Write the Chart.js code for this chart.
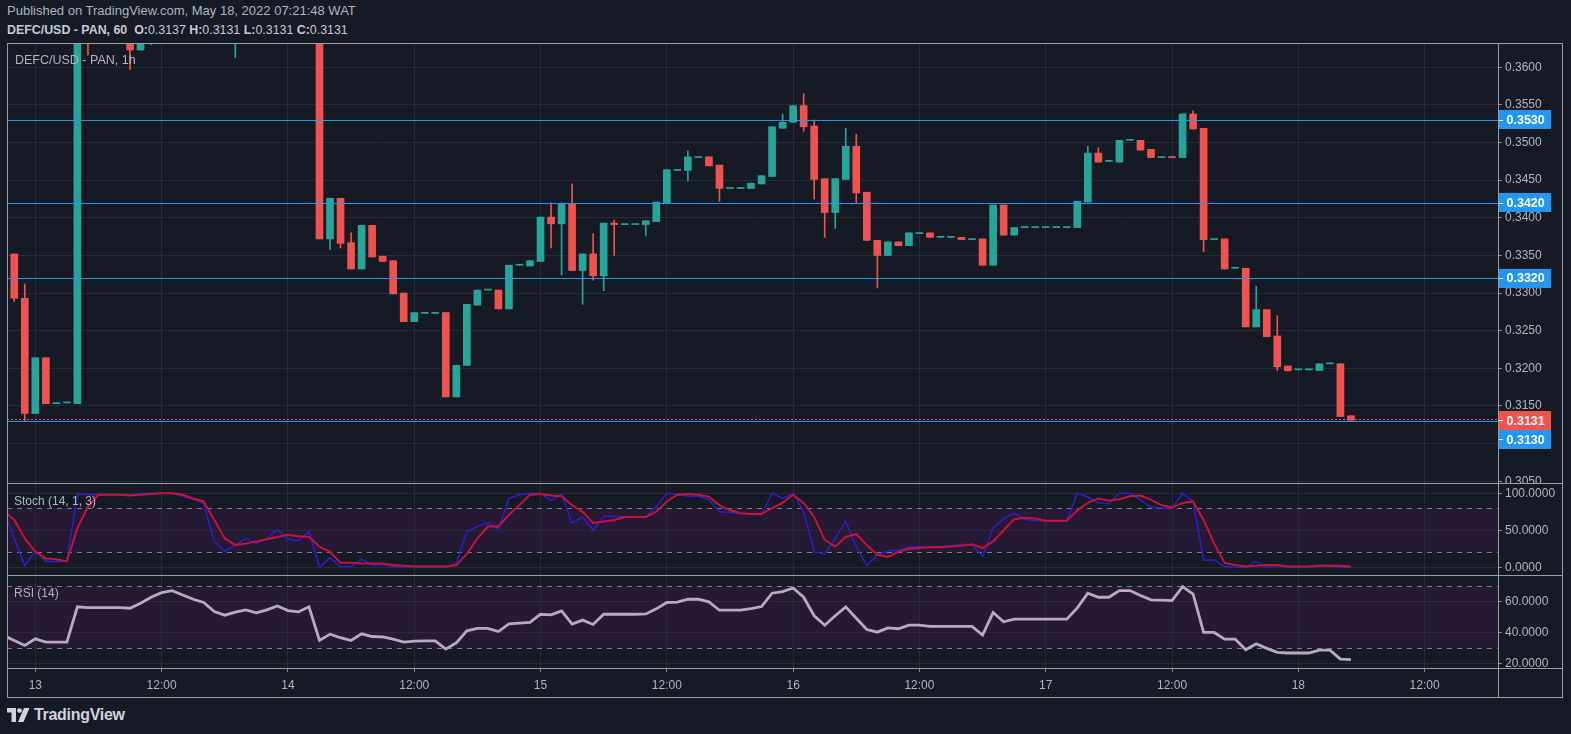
<!DOCTYPE html>
<html>
<head>
<meta charset="utf-8">
<title>DEFC/USD - PAN, 1h</title>
<script src="https://cdn.jsdelivr.net/npm/chart.js@4.4.1/dist/chart.umd.min.js"></script>
<style>
  body { margin: 0; width: 1571px; height: 734px; background: #161a25; overflow: hidden;
         position: relative; font-family: "Liberation Sans", Arial, sans-serif; color: #b2b5be; }
  canvas { position: absolute; }
  .txt { position: absolute; white-space: nowrap; }
  .frame { position: absolute; background: #9a9da6; }
  #pub { left: 7px; top: 3px; font-size: 13px; line-height: 16px; }
  #ohlc { left: 7px; top: 22px; font-size: 12.4px; line-height: 16px; color: #c8cbd3; }
  #ohlc span { font-weight: normal; }
  .paneTitle { font-size: 12px; line-height: 14px; color: #b2b5be; }
  #legend { font-size: 12.5px; }
  #brand { left: 7px; top: 706px; height: 18px; display: flex; align-items: center; }
  #brand b { font-size: 16px; color: #d1d4dc; margin-left: 3px; letter-spacing: -0.3px; }
</style>
</head>
<body>

<div id="pub" class="txt">Published on TradingView.com, May 18, 2022 07:21:48 WAT</div>
<div id="ohlc" class="txt"><b>DEFC/USD - PAN, 60&nbsp; O:</b><span>0.3137</span> <b>H:</b><span>0.3131</span> <b>L:</b><span>0.3131</span> <b>C:</b><span>0.3131</span></div>

<canvas id="priceChart" width="1556" height="440" style="left:7px;top:43px"></canvas>
<canvas id="stochChart" width="1556" height="92" style="left:7px;top:483px"></canvas>
<canvas id="rsiChart" width="1556" height="122" style="left:7px;top:575px"></canvas>

<div id="legend" class="txt paneTitle" style="left:15px;top:53px">DEFC/USD - PAN, 1h</div>
<div class="txt paneTitle" style="left:14px;top:494px">Stoch (14, 1, 3)</div>
<div class="txt paneTitle" style="left:14px;top:586px">RSI (14)</div>

<!-- pane frame -->
<div class="frame" style="left:7px;top:43px;width:1556px;height:1px"></div>
<div class="frame" style="left:7px;top:483px;width:1556px;height:1px"></div>
<div class="frame" style="left:7px;top:575px;width:1556px;height:1px"></div>
<div class="frame" style="left:7px;top:668px;width:1556px;height:1px"></div>
<div class="frame" style="left:7px;top:697px;width:1556px;height:1px"></div>
<div class="frame" style="left:7px;top:43px;width:1px;height:655px"></div>
<div class="frame" style="left:1498px;top:43px;width:1px;height:655px"></div>
<div class="frame" style="left:1562px;top:43px;width:1px;height:655px"></div>

<div id="brand" class="txt">
  <svg width="24" height="14" viewBox="0 0 24 14">
    <path d="M0 0h9v14h-4.5v-9.5h-4.5z" fill="#d1d4dc"/>
    <circle cx="12.5" cy="2.6" r="2.4" fill="#d1d4dc"/>
    <path d="M17 0h5.5l-6 14h-5.5z" fill="#d1d4dc"/>
  </svg>
  <b>TradingView</b>
</div>

<script>
// hourly bars, first one is 12 May 21:00, last one 18 May 05:00
const firstHour = -3;   // hours relative to 13 May 00:00

const opens = [
  0.3351, 0.3352, 0.3293,
  // 13
  0.3140, 0.3214, 0.3153, 0.3154, 0.3153, 0.3680, 0.3660, 0.3672, 0.3695, 0.3705, 0.3623, 0.3690,
  0.3715, 0.3735, 0.3750, 0.3725, 0.3710, 0.3700, 0.3665, 0.3655, 0.3668, 0.3675, 0.3665, 0.3678,
  // 14
  0.3692, 0.3680, 0.3675, 0.3688, 0.3372, 0.3426, 0.3367, 0.3332, 0.3390, 0.3349, 0.3343, 0.3300,
  0.3262, 0.3273, 0.3273, 0.3274, 0.3162, 0.3204, 0.3284, 0.3304, 0.3304, 0.3279, 0.3337, 0.3336,
  // 15
  0.3342, 0.3401, 0.3392, 0.3418, 0.3330, 0.3352, 0.3323, 0.3393, 0.3391, 0.3391, 0.3391, 0.3395,
  0.3420, 0.3463, 0.3463, 0.3480, 0.3481, 0.3470, 0.3439, 0.3439, 0.3439, 0.3445, 0.3455, 0.3519,
  // 16
  0.3527, 0.3549, 0.3522, 0.3452, 0.3407, 0.3451, 0.3495, 0.3434, 0.3370, 0.3350, 0.3368, 0.3363,
  0.3379, 0.3380, 0.3374, 0.3374, 0.3374, 0.3371, 0.3372, 0.3337, 0.3417, 0.3377, 0.3387, 0.3387,
  // 17
  0.3387, 0.3387, 0.3387, 0.3387, 0.3421, 0.3486, 0.3475, 0.3474, 0.3503, 0.3503, 0.3491, 0.3480,
  0.3481, 0.3480, 0.3538, 0.3519, 0.3371, 0.3372, 0.3333, 0.3333, 0.3255, 0.3278, 0.3243, 0.3203,
  // 18
  0.3198, 0.3198, 0.3197, 0.3206, 0.3206, 0.3137
];
const highs = [
  0.3353, 0.3352, 0.3312,
  0.3214, 0.3214, 0.3154, 0.3154, 0.3690, 0.3700, 0.3680, 0.3705, 0.3715, 0.3710, 0.3695, 0.3725,
  0.3745, 0.3760, 0.3755, 0.3735, 0.3720, 0.3705, 0.3675, 0.3680, 0.3685, 0.3680, 0.3685, 0.3700,
  0.3695, 0.3685, 0.3695, 0.3690, 0.3426, 0.3426, 0.3380, 0.3390, 0.3390, 0.3349, 0.3343, 0.3300,
  0.3274, 0.3273, 0.3273, 0.3274, 0.3204, 0.3285, 0.3304, 0.3304, 0.3304, 0.3337, 0.3337, 0.3343,
  0.3401, 0.3420, 0.3420, 0.3445, 0.3352, 0.3379, 0.3393, 0.3397, 0.3391, 0.3391, 0.3396, 0.3421,
  0.3464, 0.3463, 0.3489, 0.3480, 0.3481, 0.3470, 0.3439, 0.3439, 0.3446, 0.3456, 0.3521, 0.3538,
  0.3549, 0.3565, 0.3530, 0.3452, 0.3452, 0.3519, 0.3511, 0.3434, 0.3370, 0.3368, 0.3368, 0.3380,
  0.3379, 0.3380, 0.3374, 0.3374, 0.3374, 0.3371, 0.3372, 0.3417, 0.3417, 0.3387, 0.3387, 0.3387,
  0.3387, 0.3387, 0.3387, 0.3422, 0.3495, 0.3493, 0.3475, 0.3503, 0.3503, 0.3503, 0.3491, 0.3480,
  0.3481, 0.3538, 0.3542, 0.3519, 0.3371, 0.3372, 0.3333, 0.3333, 0.3309, 0.3278, 0.3270, 0.3203,
  0.3198, 0.3198, 0.3206, 0.3206, 0.3206, 0.3137
];
const lows = [
  0.3350, 0.3289, 0.3130,
  0.3140, 0.3153, 0.3153, 0.3154, 0.3153, 0.3616, 0.3650, 0.3660, 0.3685, 0.3597, 0.3623, 0.3630,
  0.3700, 0.3720, 0.3715, 0.3700, 0.3690, 0.3650, 0.3645, 0.3613, 0.3655, 0.3660, 0.3660, 0.3670,
  0.3670, 0.3665, 0.3670, 0.3372, 0.3358, 0.3360, 0.3332, 0.3332, 0.3348, 0.3342, 0.3299, 0.3262,
  0.3262, 0.3273, 0.3273, 0.3162, 0.3162, 0.3204, 0.3284, 0.3304, 0.3279, 0.3279, 0.3337, 0.3336,
  0.3342, 0.3360, 0.3324, 0.3330, 0.3285, 0.3317, 0.3303, 0.3350, 0.3391, 0.3391, 0.3376, 0.3395,
  0.3420, 0.3463, 0.3449, 0.3480, 0.3469, 0.3422, 0.3439, 0.3439, 0.3439, 0.3445, 0.3455, 0.3519,
  0.3527, 0.3515, 0.3425, 0.3374, 0.3386, 0.3451, 0.3420, 0.3370, 0.3307, 0.3350, 0.3363, 0.3363,
  0.3379, 0.3374, 0.3374, 0.3374, 0.3371, 0.3371, 0.3337, 0.3337, 0.3377, 0.3377, 0.3387, 0.3387,
  0.3387, 0.3387, 0.3387, 0.3387, 0.3421, 0.3474, 0.3475, 0.3474, 0.3503, 0.3490, 0.3480, 0.3480,
  0.3480, 0.3480, 0.3518, 0.3355, 0.3371, 0.3332, 0.3333, 0.3255, 0.3255, 0.3242, 0.3197, 0.3196,
  0.3198, 0.3198, 0.3197, 0.3206, 0.3136, 0.3131
];
const closes = [
  0.3352, 0.3293, 0.3140,
  0.3214, 0.3153, 0.3154, 0.3154, 0.3680, 0.3660, 0.3672, 0.3695, 0.3705, 0.3623, 0.3690, 0.3715,
  0.3735, 0.3750, 0.3725, 0.3710, 0.3700, 0.3665, 0.3655, 0.3668, 0.3675, 0.3665, 0.3678, 0.3692,
  0.3680, 0.3675, 0.3688, 0.3372, 0.3426, 0.3366, 0.3332, 0.3390, 0.3348, 0.3342, 0.3299, 0.3262,
  0.3274, 0.3273, 0.3273, 0.3162, 0.3204, 0.3285, 0.3304, 0.3304, 0.3279, 0.3337, 0.3337, 0.3343,
  0.3401, 0.3392, 0.3418, 0.3330, 0.3352, 0.3323, 0.3393, 0.3391, 0.3391, 0.3391, 0.3396, 0.3421,
  0.3464, 0.3463, 0.3481, 0.3480, 0.3469, 0.3439, 0.3439, 0.3439, 0.3446, 0.3456, 0.3521, 0.3527,
  0.3549, 0.3521, 0.3451, 0.3407, 0.3452, 0.3495, 0.3433, 0.3370, 0.3350, 0.3368, 0.3363, 0.3380,
  0.3379, 0.3374, 0.3374, 0.3374, 0.3371, 0.3371, 0.3337, 0.3417, 0.3377, 0.3387, 0.3387, 0.3387,
  0.3387, 0.3387, 0.3387, 0.3422, 0.3486, 0.3474, 0.3475, 0.3503, 0.3503, 0.3490, 0.3480, 0.3480,
  0.3480, 0.3538, 0.3518, 0.3371, 0.3371, 0.3332, 0.3333, 0.3255, 0.3278, 0.3242, 0.3202, 0.3197,
  0.3198, 0.3198, 0.3206, 0.3206, 0.3136, 0.3131
];

// Stoch (14, 1, 3)
const stochK = [
  75, 39, 2,
  22, 8, 8, 8, 99, 98, 98, 98, 98, 97, 100, 100, 100, 100, 96, 92, 86, 35, 22, 30, 39, 32, 39, 51,
  38, 36, 48, 0, 13, 1, 1, 11, 3, 3, 1, 0, 1, 1, 1, 0, 6, 48, 55, 60, 52, 93, 98, 100,
  100, 90, 99, 60, 68, 50, 69, 69, 68, 68, 68, 82, 100, 99, 96, 96, 91, 75, 74, 73, 72, 71, 100, 93,
  100, 75, 21, 18, 39, 62, 28, 2, 17, 22, 23, 27, 28, 27, 28, 29, 31, 30, 15, 53, 66, 73, 65, 63,
  63, 63, 63, 100, 95, 87, 86, 100, 100, 91, 81, 80, 80, 100, 89, 10, 10, 1, 0, 0, 8, 0, 2, 0,
  0, 1, 3, 2, 0, 0
];
const stochD = [
  76, 64, 39,
  21, 12, 11, 8, 53, 82, 98, 98, 98, 97, 98, 99, 100, 100, 98, 93, 89, 64, 39, 30, 32, 35, 38, 41,
  44, 42, 41, 28, 21, 6, 6, 5, 5, 5, 3, 2, 1, 1, 1, 1, 3, 18, 39, 55, 55, 71, 84, 98,
  99, 97, 96, 84, 75, 60, 62, 64, 68, 68, 68, 75, 89, 98, 99, 98, 95, 84, 77, 73, 72, 72, 80, 87,
  98, 87, 68, 37, 28, 41, 45, 30, 17, 14, 21, 25, 26, 27, 27, 28, 29, 31, 26, 35, 50, 65, 67, 66,
  63, 63, 63, 77, 87, 93, 90, 92, 96, 97, 91, 84, 81, 87, 89, 64, 32, 6, 3, 1, 2, 3, 3, 1,
  1, 1, 2, 2, 2, 1
];

// RSI (14)
const rsi = [
  38.0, 34.8, 31.6,
  35.9, 33.8, 33.8, 33.8, 56.6, 56.1, 56.1, 56.1, 56.1, 55.7, 58.9, 62.8,
  65.8, 67.1, 64.3, 61.5, 59.4, 53.5, 51.2, 53.1, 54.6, 52.7, 54.6, 57.2,
  54.2, 53.3, 56.6, 34.8, 38.9, 36.6, 34.8, 39.1, 37.4, 37.2, 35.7, 33.8,
  34.4, 34.6, 34.6, 29.2, 33.3, 41.1, 42.6, 42.6, 40.6, 45.6, 46.0, 46.5,
  51.8, 51.4, 54.0, 45.4, 48.0, 45.2, 51.8, 51.8, 51.8, 51.8, 52.0, 55.3,
  59.4, 59.6, 61.5, 61.5, 59.8, 54.4, 54.4, 54.4, 55.5, 56.8, 65.4, 66.5,
  68.8, 62.8, 50.8, 44.7, 50.8, 56.6, 49.2, 41.9, 40.2, 43.0, 42.4, 44.7,
  44.7, 43.9, 43.9, 43.9, 43.9, 43.9, 38.3, 52.9, 46.9, 48.6, 48.6, 48.6,
  48.6, 48.6, 48.6, 55.9, 65.4, 62.8, 62.8, 67.1, 67.1, 63.9, 61.1, 60.9,
  60.6, 69.7, 64.9, 40.0, 40.0, 35.7, 35.7, 28.8, 32.7, 29.7, 27.1, 26.7,
  26.7, 26.7, 28.6, 28.6, 22.8, 22.4
];

// horizontal levels drawn on the chart
const priceLevels = [0.3530, 0.3420, 0.3320, 0.3130];

// axis tick labels
const priceTicks = [0.3050, 0.3100, 0.3150, 0.3200, 0.3250, 0.3300, 0.3350, 0.3400, 0.3450, 0.3500, 0.3550, 0.3600];
const stochTicks = [0, 50, 100];
const rsiTicks = [20, 40, 60];
const dayLabels = ['13', '14', '15', '16', '17', '18'];

const hours = opens.map((_, i) => firstHour + i);
const lastClose = closes[closes.length - 1];

const FONT = '"Liberation Sans", Arial, sans-serif';
const TEXT = '#b2b5be';
const GRID = '#282c37';
const AXIS = '#8a8d96';
const GREEN = '#26a69a';
const RED = '#ef5350';
const BLUE = '#2196f3';

const X_MIN = -2.69, X_MAX = 138.97;

Chart.defaults.font.family = FONT;
Chart.defaults.font.size = 12;
Chart.defaults.color = TEXT;

function timeScale(showLabels) {
    return {
        type: 'linear',
        min: X_MIN,
        max: X_MAX,
        offset: false,
        afterBuildTicks: scale => {
            scale.ticks = [];
            for (let h = 0; h < X_MAX; h += 12) scale.ticks.push({ value: h });
        },
        grid: { color: GRID, offset: false, drawTicks: showLabels, tickLength: 4, tickColor: AXIS },
        border: { display: false },
        ticks: {
            display: showLabels,
            color: TEXT,
            padding: 6,
            maxRotation: 0,
            autoSkip: false,
            callback: v => v % 24 === 0 ? dayLabels[v / 24] : '12:00'
        },
        afterFit: scale => {
            scale.height = showLabels ? 29 : 0;
            scale.paddingLeft = 0;
            scale.paddingRight = 0;
        }
    };
}

function valueScale(min, max, tickValues) {
    return {
        position: 'right',
        min: min,
        max: max,
        beginAtZero: false,
        afterBuildTicks: scale => {
            scale.ticks = tickValues.map(v => ({ value: v }));
        },
        grid: { color: GRID, drawTicks: true, tickLength: 4, tickColor: AXIS },
        border: { display: false },
        ticks: { color: TEXT, padding: 3, autoSkip: false, callback: v => v.toFixed(4) },
        afterFit: scale => {
            scale.width = 65;
            scale.paddingTop = 0;
            scale.paddingBottom = 0;
        }
    };
}

const baseOptions = {
    responsive: false,
    animation: false,
    devicePixelRatio: 1,
    layout: { padding: 0 },
    events: []
};

// blue support/resistance lines, dotted last price line and the price tags on the axis
const levelPlugin = {
    id: 'levels',
    afterDatasetsDraw(chart) {
        const { ctx, chartArea: a, scales: { y } } = chart;
        ctx.save();
        ctx.beginPath();
        ctx.rect(a.left, a.top, a.right - a.left, a.bottom - a.top);
        ctx.clip();
        ctx.lineWidth = 1;
        ctx.strokeStyle = BLUE;
        priceLevels.forEach(v => {
            const py = Math.round(y.getPixelForValue(v)) + 0.5;
            ctx.beginPath();
            ctx.moveTo(a.left, py);
            ctx.lineTo(a.right, py);
            ctx.stroke();
        });
        const ly = Math.round(y.getPixelForValue(lastClose)) - 0.5;
        ctx.strokeStyle = RED;
        ctx.setLineDash([2, 2]);
        ctx.beginPath();
        ctx.moveTo(a.left, ly);
        ctx.lineTo(a.right, ly);
        ctx.stroke();
        ctx.restore();
    },
    afterDraw(chart) {
        const { ctx, chartArea: a, scales: { y } } = chart;
        const tagH = 19;
        const tags = [{ v: lastClose, color: RED }]
            .concat(priceLevels.map(v => ({ v: v, color: BLUE })))
            .map(t => Object.assign(t, { py: y.getPixelForValue(t.v) }))
            .sort((p, q) => p.py - q.py);
        for (let i = 1; i < tags.length; i++) {
            if (tags[i].py - tags[i - 1].py < tagH) tags[i].py = tags[i - 1].py + tagH;
        }
        ctx.save();
        ctx.font = 'bold 12.5px ' + FONT;
        ctx.textBaseline = 'middle';
        tags.forEach(t => {
            const top = Math.round(t.py - tagH / 2);
            ctx.fillStyle = t.color;
            ctx.fillRect(a.right, top, 53, tagH);
            ctx.fillStyle = '#ffffff';
            ctx.fillRect(a.right + 1, Math.round(t.py), 4, 1);
            ctx.fillText(t.v.toFixed(4), a.right + 8.5, t.py + 1);
        });
        ctx.restore();
    }
};

// shaded zone and dashed bounds of an oscillator pane
const bandPlugin = {
    id: 'band',
    beforeDraw(chart, args, opts) {
        const { ctx, chartArea: a, scales: { y } } = chart;
        const top = y.getPixelForValue(opts.upper);
        const bottom = y.getPixelForValue(opts.lower);
        ctx.save();
        ctx.fillStyle = '#251933';
        ctx.fillRect(a.left, top, a.right - a.left, bottom - top);
        ctx.restore();
    },
    beforeDatasetsDraw(chart, args, opts) {
        const { ctx, chartArea: a, scales: { y } } = chart;
        ctx.save();
        ctx.strokeStyle = '#7d808a';
        ctx.lineWidth = 1;
        ctx.setLineDash([5, 5]);
        [opts.upper, opts.lower].forEach(v => {
            const py = Math.round(y.getPixelForValue(v)) + 0.5;
            ctx.beginPath();
            ctx.moveTo(a.left, py);
            ctx.lineTo(a.right, py);
            ctx.stroke();
        });
        ctx.restore();
    }
};

const candleColors = closes.map((c, i) => c >= opens[i] ? GREEN : RED);

new Chart(document.getElementById('priceChart'), {
    type: 'bar',
    data: {
        datasets: [
            {
                label: 'body',
                data: hours.map((h, i) => ({ x: h, y: [opens[i], closes[i]] })),
                backgroundColor: candleColors,
                barThickness: 7,
                minBarLength: 1,
                grouped: false,
                clip: 0
            },
            {
                label: 'wick',
                data: hours.map((h, i) => ({ x: h, y: [lows[i], highs[i]] })),
                backgroundColor: candleColors,
                barThickness: 1,
                grouped: false,
                clip: 0
            }
        ]
    },
    options: Object.assign({}, baseOptions, {
        plugins: { legend: { display: false }, tooltip: { enabled: false } },
        scales: {
            x: timeScale(false),
            y: valueScale(0.30476, 0.36323, priceTicks)
        }
    }),
    plugins: [levelPlugin]
});

new Chart(document.getElementById('stochChart'), {
    type: 'line',
    data: {
        datasets: [
            {
                label: '%D',
                data: hours.map((h, i) => ({ x: h, y: stochD[i] })),
                borderColor: '#c8143a',
                borderWidth: 2,
                pointRadius: 0,
                tension: 0
            },
            {
                label: '%K',
                data: hours.map((h, i) => ({ x: h, y: stochK[i] })),
                borderColor: '#2a1fd2',
                borderWidth: 1.5,
                pointRadius: 0,
                tension: 0
            }
        ]
    },
    options: Object.assign({}, baseOptions, {
        plugins: { legend: { display: false }, tooltip: { enabled: false }, band: { lower: 20, upper: 80 } },
        scales: {
            x: timeScale(false),
            y: valueScale(-10.4, 113.9, stochTicks)
        }
    }),
    plugins: [bandPlugin]
});

new Chart(document.getElementById('rsiChart'), {
    type: 'line',
    data: {
        datasets: [
            {
                label: 'RSI',
                data: hours.map((h, i) => ({ x: h, y: rsi[i] })),
                borderColor: '#bba9c3',
                borderWidth: 2.8,
                pointRadius: 0,
                tension: 0
            }
        ]
    },
    options: Object.assign({}, baseOptions, {
        plugins: { legend: { display: false }, tooltip: { enabled: false }, band: { lower: 30, upper: 70 } },
        scales: {
            x: timeScale(true),
            y: valueScale(17.0, 77.2, rsiTicks)
        }
    }),
    plugins: [bandPlugin]
});
</script>
</body>
</html>
